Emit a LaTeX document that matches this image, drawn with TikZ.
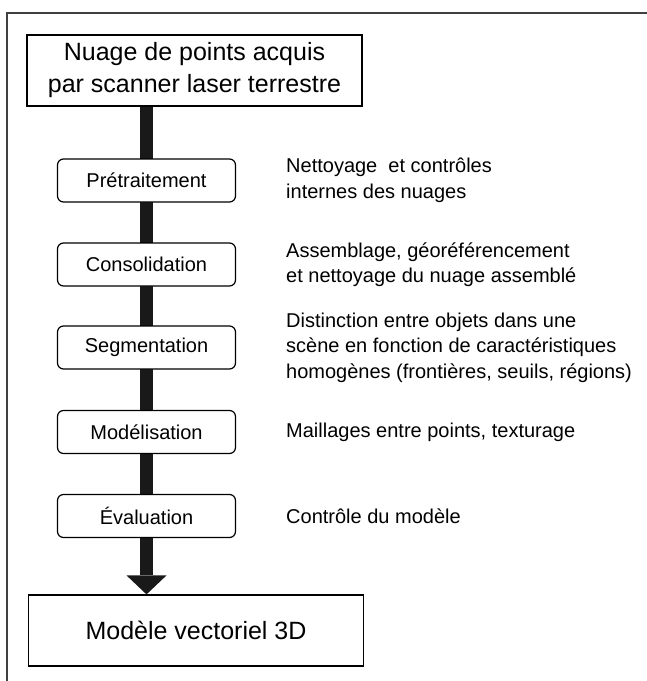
\documentclass[tikz,border=0pt]{standalone}
\usepackage{fontspec}
\setmainfont{Liberation Sans}
\usetikzlibrary{calc,backgrounds}

\tikzset{
  bigbox/.style={draw=black, line width=1.2pt, fill=white, inner sep=0pt,
    minimum width=335pt, minimum height=71pt, align=center,
    font=\fontsize{25}{32}\selectfont},
  stepbox/.style={draw=black, line width=1.2pt, fill=white, rounded corners=6pt,
    inner sep=0pt, minimum width=178pt, minimum height=43pt,
    font=\fontsize{20}{25}\selectfont},
  note/.style={anchor=west, inner sep=0pt, align=left,
    font=\fontsize{20}{25.5}\selectfont},
  frameline/.style={draw=black!75, line width=1.4pt},
  shaft/.style={draw=black!90, line width=13pt},
}

\begin{document}
\begin{tikzpicture}[x=1pt, y=-1pt]
  \useasboundingbox (0,0) rectangle (647,681);

  % page frame (top and left edges)
  \draw[frameline] (647,13) -- (7,13) -- (7,681);

  % input and output boxes
  \node[bigbox] (top) at (194.5,70.5) {Nuage de points acquis\\par scanner laser terrestre};
  \node[bigbox] (bottom) at (196,630.5) {Modèle vectoriel 3D};

  % processing steps
  \node[stepbox] (s1) at (146.5,180.5) {Prétraitement};
  \node[stepbox] (s2) at (146.5,264.5) {Consolidation};
  \node[stepbox] (s3) at (146.5,347.5) {Segmentation};
  \node[stepbox] (s4) at (146.5,432)   {Modélisation};
  \node[stepbox] (s5) at (146.5,516)   {Évaluation};

  % step descriptions
  \node[note] (d1) at (286,180.5) {Nettoyage \ et contrôles\\internes des nuages};
  \node[note] (d2) at (286,264.5) {Assemblage, géoréférencement\\et nettoyage du nuage assemblé};
  \node[note] (d3) at (286,347.5) {Distinction entre objets dans une\\scène en fonction de caractéristiques\\homogènes (frontières, seuils, régions)};
  \node[note] (d4) at (286,432)   {Maillages entre points, texturage};
  \node[note] (d5) at (286,516)   {Contrôle du modèle};

  % thick flow arrow running behind the steps
  \begin{scope}[on background layer]
    \coordinate (tip) at (bottom.north -| s1.center);
    \draw[shaft] (top.south -| s1.center) -- ($(tip)+(0,-19)$);
    \fill[black!90] ($(tip)+(-20,-19)$) -- ($(tip)+(20,-19)$) -- (tip) -- cycle;
  \end{scope}
\end{tikzpicture}
\end{document}
